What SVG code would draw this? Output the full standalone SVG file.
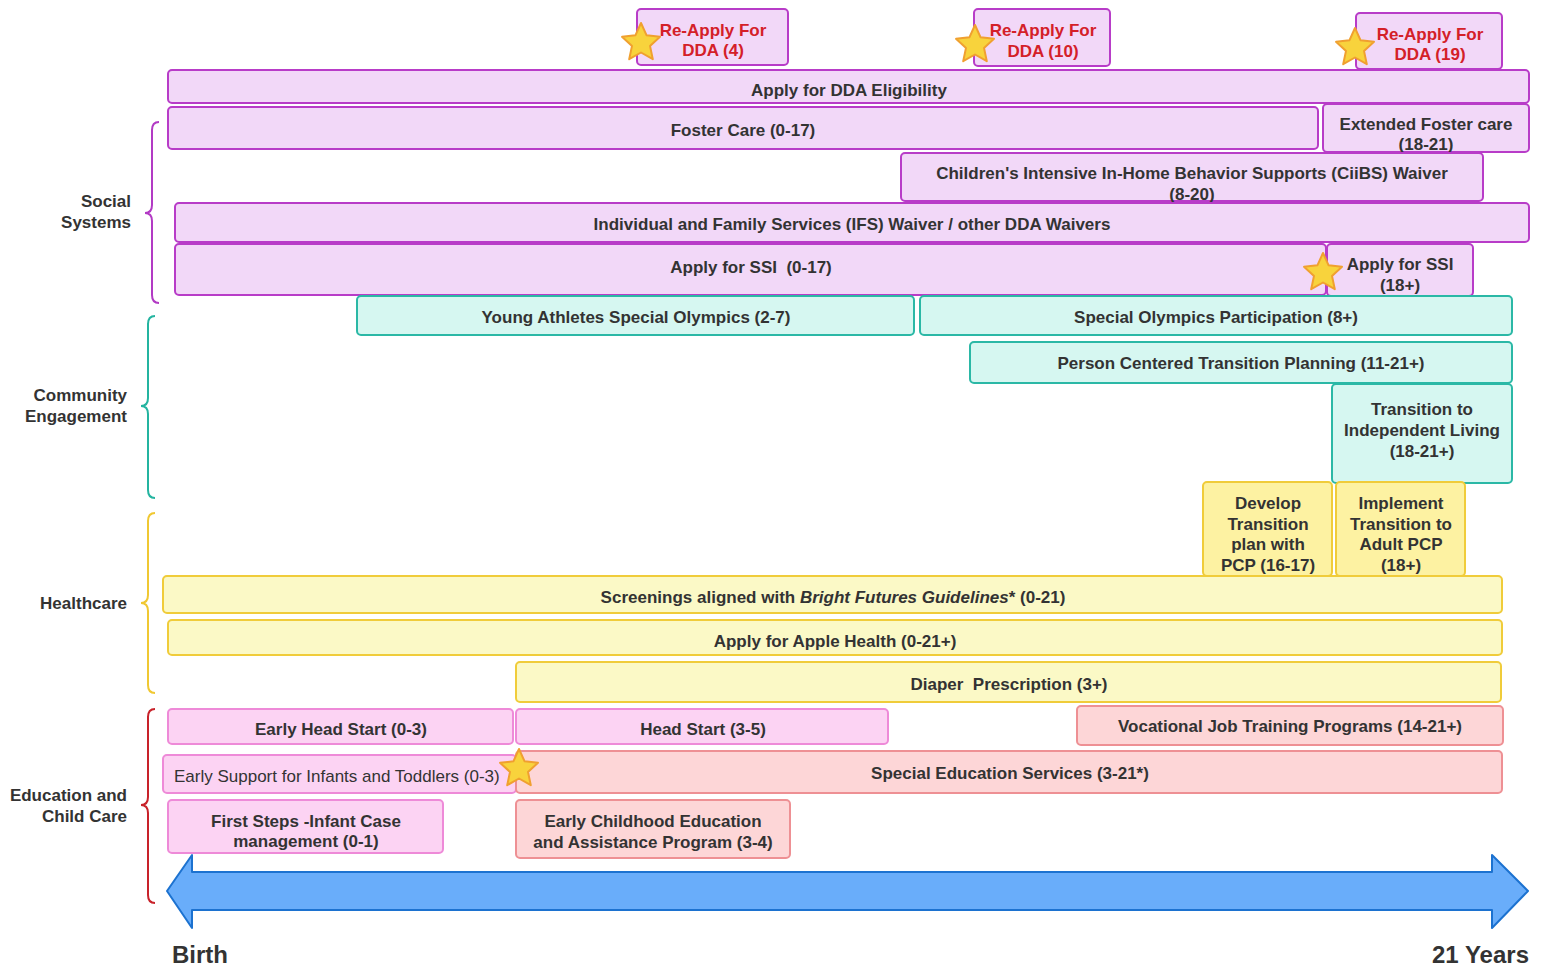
<svg xmlns="http://www.w3.org/2000/svg" width="1546" height="971" viewBox="0 0 1546 971">
<style>
text{font-family:"Liberation Sans",Arial,sans-serif;font-weight:bold;font-size:17px;fill:#333;text-anchor:middle;white-space:pre}
.pu{fill:#f2d8f8;stroke:#b83cc8;stroke-width:2}
.te{fill:#d6f7f1;stroke:#2bb8a6;stroke-width:2}
.ye{fill:#fbf9c6;stroke:#f0cc3a;stroke-width:2}
.ye2{fill:#fdf2a2;stroke:#f0cc3a;stroke-width:2}
.pk{fill:#fcd3f3;stroke:#ee8ad8;stroke-width:2}
.sa{fill:#fdd6d7;stroke:#ee9094;stroke-width:2}
.red{fill:#d42028}
.cat{text-anchor:end}
.br{fill:none;stroke-width:2}
.star{fill:#f8d33c;stroke:#f0a030;stroke-width:2;stroke-linejoin:round}
</style>
<defs>
<path id="star" class="star" d="M0,-20 L5.6,-7.7 L19,-6.2 L9,2.9 L11.8,16.2 L0,9.5 L-11.8,16.2 L-9,2.9 L-19,-6.2 L-5.6,-7.7 Z"/>
</defs>

<!-- category labels and brackets -->
<g id="cat-social">
<path class="br" stroke="#b23ac4" d="M159,122 Q152,122 152,130 L152,205 Q152,213 145,213 Q152,213 152,221 L152,295 Q152,303 159,303"/>
<text class="cat" x="131" y="207">Social</text>
<text class="cat" x="131" y="228">Systems</text>
</g>
<g id="cat-community">
<path class="br" stroke="#24b4a0" d="M155,316 Q148,316 148,324 L148,398 Q148,406 141,406 Q148,406 148,414 L148,490 Q148,498 155,498"/>
<text class="cat" x="127" y="401">Community</text>
<text class="cat" x="127" y="422">Engagement</text>
</g>
<g id="cat-health">
<path class="br" stroke="#f0c832" d="M155,513 Q148,513 148,521 L148,595 Q148,603 141,603 Q148,603 148,611 L148,685 Q148,693 155,693"/>
<text class="cat" x="127" y="609">Healthcare</text>
</g>
<g id="cat-education">
<path class="br" stroke="#c8222a" d="M155,709 Q148,709 148,717 L148,797 Q148,805 141,805 Q148,805 148,813 L148,895 Q148,903 155,903"/>
<text class="cat" x="127" y="801">Education and</text>
<text class="cat" x="127" y="822">Child Care</text>
</g>

<!-- Social systems -->
<g id="reapply4"><rect class="pu" x="637" y="9" width="151" height="56" rx="4"/><text class="red" x="713" y="36">Re-Apply For</text><text class="red" x="713" y="56">DDA (4)</text></g>
<g id="reapply10"><rect class="pu" x="974" y="9" width="136" height="57" rx="4"/><text class="red" x="1043" y="36">Re-Apply For</text><text class="red" x="1043" y="57">DDA (10)</text></g>
<g id="reapply19"><rect class="pu" x="1356" y="13" width="146" height="56" rx="4"/><text class="red" x="1430" y="40">Re-Apply For</text><text class="red" x="1430" y="60">DDA (19)</text></g>
<g id="dda-elig"><rect class="pu" x="168" y="70" width="1361" height="33" rx="4"/><text x="849" y="96">Apply for DDA Eligibility</text></g>
<g id="foster"><rect class="pu" x="168" y="107" width="1150" height="42" rx="4"/><text x="743" y="136">Foster Care (0-17)</text></g>
<g id="ext-foster"><rect class="pu" x="1323" y="104" width="206" height="48" rx="4"/><text x="1426" y="130">Extended Foster care</text><text x="1426" y="150">(18-21)</text></g>
<g id="ciibs"><rect class="pu" x="901" y="153" width="582" height="48" rx="4"/><text x="1192" y="179">Children's Intensive In-Home Behavior Supports (CiiBS) Waiver</text><text x="1192" y="200">(8-20)</text></g>
<g id="ifs"><rect class="pu" x="175" y="203" width="1354" height="39" rx="4"/><text x="852" y="230">Individual and Family Services (IFS) Waiver / other DDA Waivers</text></g>
<g id="ssi017"><rect class="pu" x="175" y="244" width="1151" height="51" rx="4"/><text x="751" y="273">Apply for SSI  (0-17)</text></g>
<g id="ssi18"><rect class="pu" x="1327" y="244" width="146" height="52" rx="4"/><text x="1400" y="270">Apply for SSI</text><text x="1400" y="291">(18+)</text></g>

<!-- Community -->
<g id="young-athletes"><rect class="te" x="357" y="296" width="557" height="39" rx="4"/><text x="636" y="323">Young Athletes Special Olympics (2-7)</text></g>
<g id="so-participation"><rect class="te" x="920" y="296" width="592" height="39" rx="4"/><text x="1216" y="323">Special Olympics Participation (8+)</text></g>
<g id="pctp"><rect class="te" x="970" y="342" width="542" height="41" rx="4"/><text x="1241" y="369">Person Centered Transition Planning (11-21+)</text></g>
<g id="indep-living"><rect class="te" x="1332" y="384" width="180" height="99" rx="4"/><text x="1422" y="415">Transition to</text><text x="1422" y="436">Independent Living</text><text x="1422" y="457">(18-21+)</text></g>

<!-- Healthcare -->
<g id="develop-transition"><rect class="ye2" x="1203" y="482" width="129" height="94" rx="4"/><text x="1268" y="509">Develop</text><text x="1268" y="530">Transition</text><text x="1268" y="550">plan with</text><text x="1268" y="571">PCP (16-17)</text></g>
<g id="implement-transition"><rect class="ye2" x="1336" y="482" width="129" height="94" rx="4"/><text x="1401" y="509">Implement</text><text x="1401" y="530">Transition to</text><text x="1401" y="550">Adult PCP</text><text x="1401" y="571">(18+)</text></g>
<g id="screenings"><rect class="ye" x="163" y="576" width="1339" height="37" rx="4"/><text x="833" y="603">Screenings aligned with <tspan font-style="italic">Bright Futures Guidelines</tspan>* (0-21)</text></g>
<g id="apple-health"><rect class="ye" x="168" y="620" width="1334" height="35" rx="4"/><text x="835" y="647">Apply for Apple Health (0-21+)</text></g>
<g id="diaper"><rect class="ye" x="516" y="662" width="985" height="40" rx="4"/><text x="1009" y="690">Diaper  Prescription (3+)</text></g>

<!-- Education -->
<g id="early-head-start"><rect class="pk" x="168" y="709" width="345" height="35" rx="4"/><text x="341" y="735">Early Head Start (0-3)</text></g>
<g id="head-start"><rect class="pk" x="516" y="709" width="372" height="35" rx="4"/><text x="703" y="735">Head Start (3-5)</text></g>
<g id="vocational"><rect class="sa" x="1077" y="706" width="426" height="39" rx="4"/><text x="1290" y="732">Vocational Job Training Programs (14-21+)</text></g>
<g id="early-support"><rect class="pk" x="163" y="755" width="353" height="38" rx="4"/><text x="174" y="782" style="text-anchor:start;font-weight:normal">Early Support for Infants and Toddlers (0-3)</text></g>
<g id="special-ed"><rect class="sa" x="516" y="751" width="986" height="42" rx="4"/><text x="1010" y="779">Special Education Services (3-21*)</text></g>
<g id="first-steps"><rect class="pk" x="168" y="800" width="275" height="53" rx="4"/><text x="306" y="827">First Steps -Infant Case</text><text x="306" y="847">management (0-1)</text></g>
<g id="eceap"><rect class="sa" x="516" y="800" width="274" height="58" rx="4"/><text x="653" y="827">Early Childhood Education</text><text x="653" y="848">and Assistance Program (3-4)</text></g>

<!-- stars -->
<g id="stars">
<use href="#star" x="641" y="43"/>
<use href="#star" x="975" y="45"/>
<use href="#star" x="1355" y="48"/>
<use href="#star" x="1323" y="273"/>
<use href="#star" x="519" y="769"/>
</g>

<!-- timeline arrow -->
<g id="timeline">
<path d="M167,891 L192,855 L192,872 L1492,872 L1492,855 L1528,891 L1492,928 L1492,910 L192,910 L192,928 Z" fill="#69adfa" stroke="#1c72d0" stroke-width="2" stroke-linejoin="round"/>
<text x="172" y="963" style="text-anchor:start;font-size:24px">Birth</text>
<text x="1529" y="963" style="text-anchor:end;font-size:24px">21 Years</text>
</g>
</svg>
